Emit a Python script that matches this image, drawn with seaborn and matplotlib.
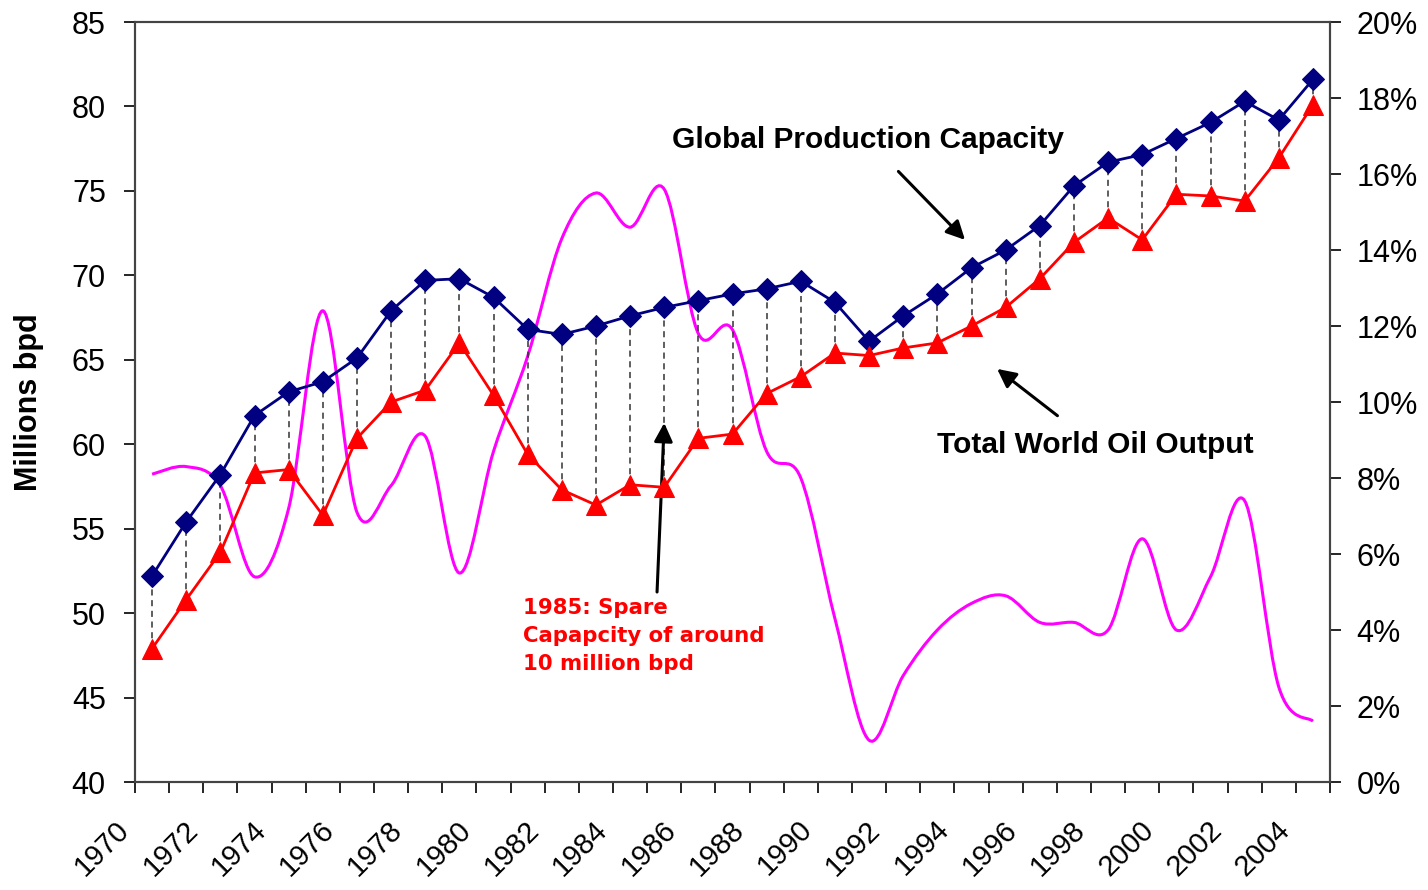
import numpy as np
import pandas as pd
import matplotlib
matplotlib.use("Agg")
import matplotlib.pyplot as plt
from matplotlib.path import Path
from matplotlib.patches import PathPatch
import seaborn as sns

years = list(range(1970, 2005))
capacity = [52.2, 55.4, 58.2, 61.7, 63.1, 63.7, 65.1, 67.9, 69.7, 69.8, 68.7, 66.8,
            66.5, 67.0, 67.6, 68.1, 68.5, 68.9, 69.2, 69.65, 68.4, 66.1,
            67.6, 68.9, 70.45, 71.5, 72.95, 75.3, 76.7, 77.15, 78.1, 79.05, 80.3, 79.2, 81.6]
output = [47.9, 50.8, 53.6, 58.3, 58.5, 55.8, 60.35, 62.5, 63.2, 66.0, 62.9, 59.4,
          57.3, 56.4, 57.6, 57.45, 60.35, 60.6, 63.0, 64.0, 65.4, 65.25,
          65.7, 66.0, 67.0, 68.1, 69.8, 71.95, 73.4, 72.1, 74.8, 74.7, 74.4, 76.95, 80.1]
spare_pct = [8.1, 8.3, 7.8, 5.4, 7.2, 12.4, 7.1, 7.8, 9.1, 5.5,
             8.7, 11.2, 14.3, 15.5, 14.6, 15.6, 11.8, 11.9, 8.7, 8.0,
             4.3, 1.1, 2.8, 4.0, 4.7, 4.9, 4.2, 4.2, 4.0, 6.4,
             4.0, 5.4, 7.4, 2.5, 1.6]
year_labels = [str(y) if y % 2 == 0 else "" for y in years]

df = pd.DataFrame({"year": years, "capacity": capacity, "output": output, "spare": spare_pct})
# excel category axis: points sit in the middle of each year slot
df["x"] = df["year"] + 0.5

sns.set_style("ticks")
plt.rcParams["font.family"] = ["Liberation Sans", "DejaVu Sans"]
plt.rcParams["text.color"] = "black"
plt.rcParams["axes.labelcolor"] = "black"
plt.rcParams["xtick.color"] = "black"
plt.rcParams["ytick.color"] = "black"

fig, ax = plt.subplots(figsize=(14.28, 8.9), dpi=100)
fig.subplots_adjust(left=135/1428, right=1330/1428, bottom=1-782/890, top=1-22/890)

# dashed high-low lines
ax.vlines(df["x"], df["output"], df["capacity"], colors="#333333",
          linestyles=(0, (4, 3)), linewidth=1.1, zorder=2)

sns.lineplot(data=df, x="x", y="capacity", ax=ax, color="#000080", linewidth=2,
             marker="D", markersize=11, markeredgecolor="#000080", zorder=4)
sns.lineplot(data=df, x="x", y="output", ax=ax, color="#ff0000", linewidth=2,
             marker="^", markersize=15, markeredgecolor="#ff0000", zorder=4)

ax.set_xlim(1970, 2005)
ax.set_ylim(40, 85)
ax.set_yticks(range(40, 86, 5))
ax.set_xticks(years + [2005])
ax.set_xticklabels(year_labels + [""], rotation=45, ha="right", va="top")
ax.set_xlabel("")
ax.set_ylabel("Millions bpd", fontsize=22, fontweight="bold")
ax.yaxis.set_label_coords(-0.076, 0.5)
ax.tick_params(axis="y", labelsize=22, length=8, width=1.2, pad=13)
ax.tick_params(axis="x", labelsize=21, length=8, width=1.2, pad=16)

# spare capacity on right axis
ax2 = ax.twinx()
ax2.set_ylim(0, 20)
ax2.set_yticks(range(0, 21, 2))
ax2.set_yticklabels([f"{v}%" for v in range(0, 21, 2)])
ax2.tick_params(axis="y", labelsize=22, length=8, width=1.2, pad=11)
ax2.set_ylabel("")

# smoothed line like excel (bezier through the yearly points)
P = df[["x", "spare"]].to_numpy(dtype=float)
n = len(P)
verts = [tuple(P[0])]
codes = [Path.MOVETO]
for i in range(n - 1):
    p0 = P[i - 1] if i > 0 else P[i]
    p3 = P[i + 2] if i + 2 < n else P[i + 1]
    c1 = P[i] + (P[i + 1] - p0) / 6
    c2 = P[i + 1] - (p3 - P[i]) / 6
    verts += [tuple(c1), tuple(c2), tuple(P[i + 1])]
    codes += [Path.CURVE4] * 3
ax2.add_patch(PathPatch(Path(verts, codes), facecolor="none", edgecolor="#ff00ff",
                        linewidth=2.2, zorder=3))
ax.set_zorder(ax2.get_zorder() + 1)
ax.patch.set_visible(False)

for a in (ax, ax2):
    for s in a.spines.values():
        s.set_color("#444444")
        s.set_linewidth(1.5)

# annotations
ax.annotate("Global Production Capacity", xy=(1994.31, 72.1), xytext=(1991.47, 78.0),
            fontsize=21.5, fontweight="bold", ha="center", va="center", color="black",
            arrowprops=dict(arrowstyle="-|>", color="black", lw=2.2, mutation_scale=28,
                            shrinkA=14, shrinkB=0))
ax.annotate("Total World Oil Output", xy=(1995.25, 64.46), xytext=(1998.12, 59.96),
            fontsize=21.5, fontweight="bold", ha="center", va="center", color="black",
            arrowprops=dict(arrowstyle="-|>", color="black", lw=2.2, mutation_scale=28,
                            shrinkA=14, shrinkB=0))
ax.annotate("", xy=(1985.5, 61.26), xytext=(1985.29, 51.25),
            arrowprops=dict(arrowstyle="-|>", color="black", lw=2.2, mutation_scale=28,
                            shrinkA=0, shrinkB=0))
ax.text(1981.36, 50.9, "1985: Spare\nCapapcity of around\n10 million bpd",
        color="#ff0000", fontsize=15.3, fontweight="bold", family="DejaVu Sans",
        ha="left", va="top", linespacing=1.5)

plt.savefig("out.png", dpi=100)
